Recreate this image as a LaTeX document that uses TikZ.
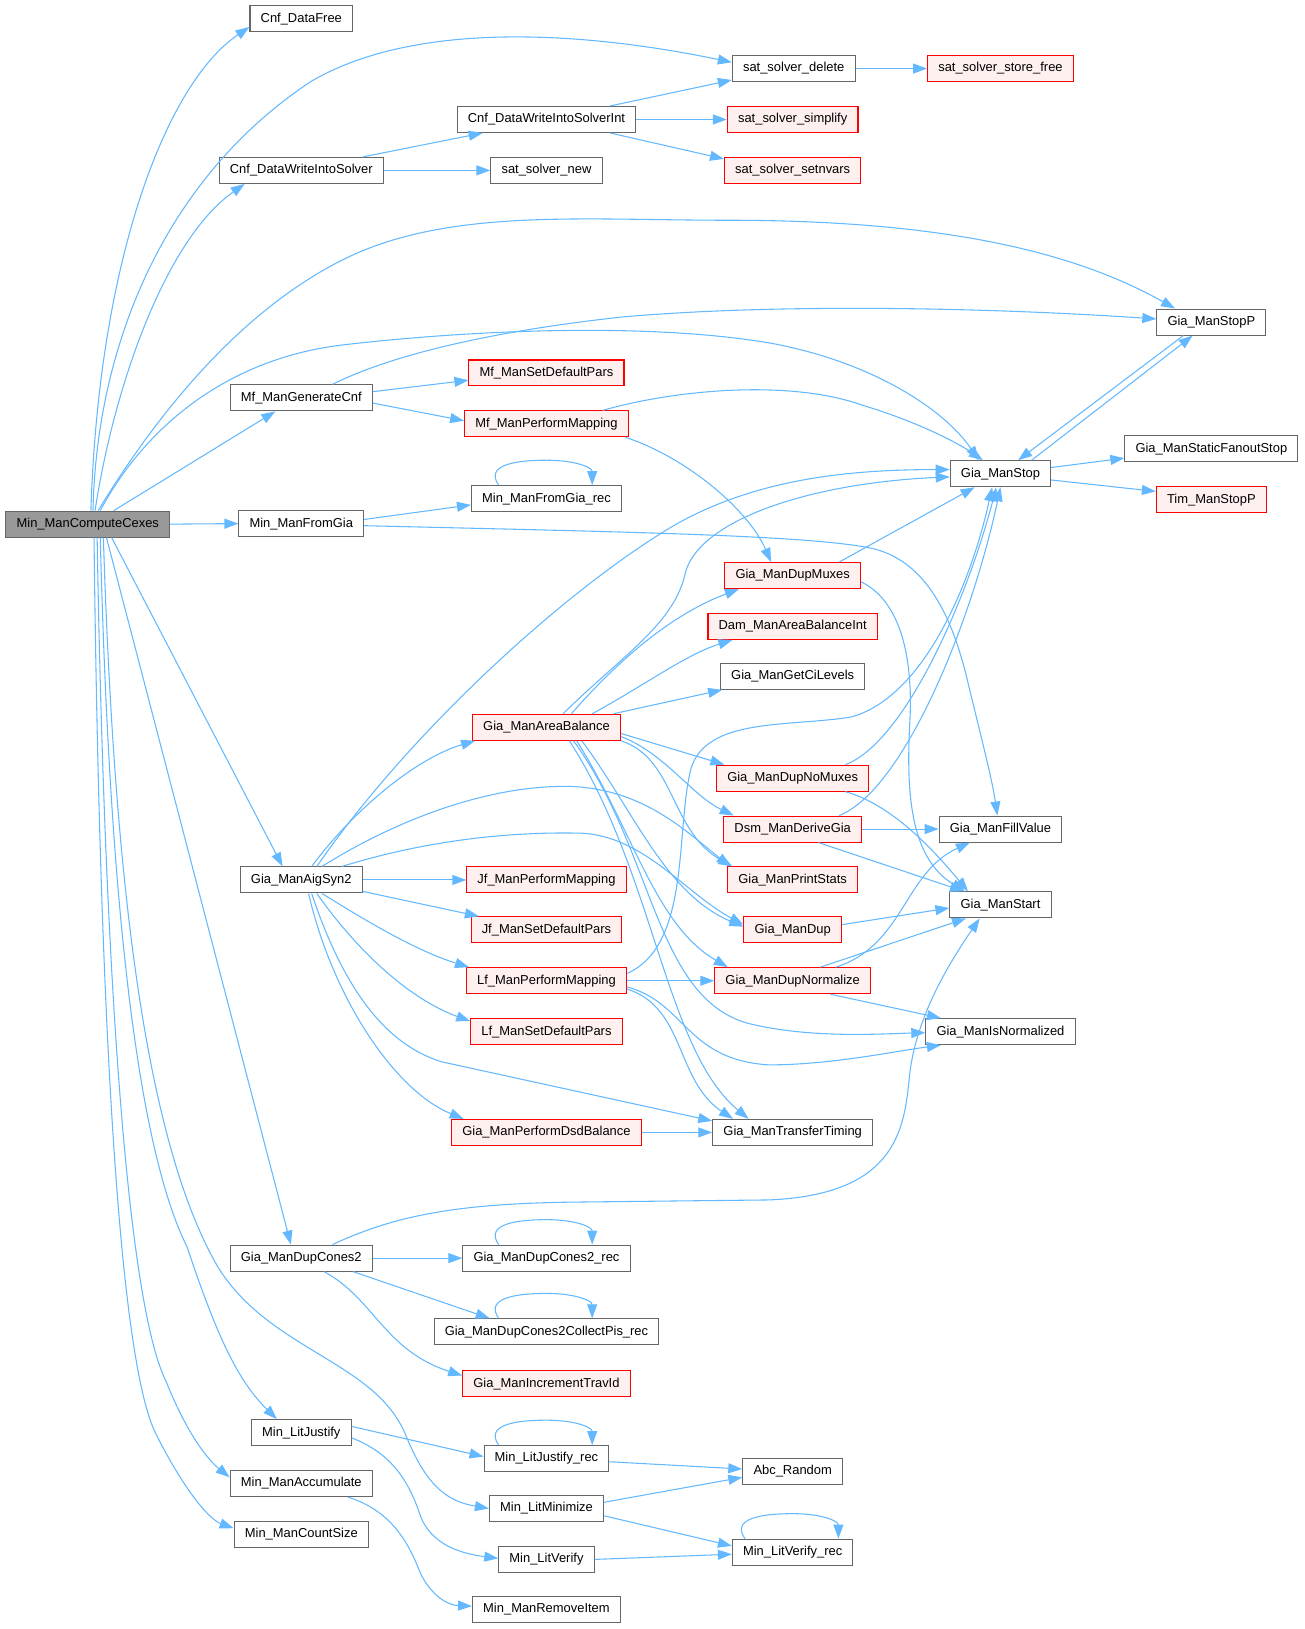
\documentclass[tikz,border=0pt]{standalone}
\usepackage{fontspec}
\setmainfont{Liberation Sans}
\usetikzlibrary{arrows.meta,calc}
\definecolor{edgec}{HTML}{63B8FF}
\definecolor{redfill}{HTML}{FFF0F0}
\definecolor{rootfill}{HTML}{999999}
\definecolor{bordc}{HTML}{666666}
\newcommand{\selfloop}[1]{\draw[conn] ($(#1.north)+(-46,0)$) .. controls ($(#1.north)+(-60,-20)$) and ($(#1.north)+(-28,-24)$) .. ($(#1.north)+(0,-24)$) .. controls ($(#1.north)+(28,-24)$) and ($(#1.north)+(44,-17)$) .. ($(#1.north)+(44,0)$);}
\begin{document}
\begin{tikzpicture}[x=0.77926pt,y=-0.77926pt,
  nbox/.style={draw=bordc,fill=white,line width=0.8pt,minimum height=19.5pt,inner xsep=8pt,inner ysep=0pt,font=\fontsize{9.7pt}{11pt}\selectfont},
  rbox/.style={nbox,draw=red,fill=redfill},
  rootbox/.style={nbox,fill=rootfill},
  conn/.style={draw=edgec,line width=0.8pt,-{Triangle[length=10.5pt,width=7.5pt]}}]
\useasboundingbox (0,0) rectangle (1256,1568);
% nodes
\node[rootbox] (root) at (84.5,504.5) {Min\_ManComputeCexes};
\node[nbox] (free) at (290,18) {Cnf\_DataFree};
\node[nbox] (ssdel) at (764,66) {sat\_solver\_delete};
\node[rbox] (ssfree) at (963,66) {sat\_solver\_store\_free};
\node[nbox] (cnfint) at (526,115) {Cnf\_DataWriteIntoSolverInt};
\node[rbox] (sssimp) at (763,115) {sat\_solver\_simplify};
\node[nbox] (cnfws) at (290,164) {Cnf\_DataWriteIntoSolver};
\node[nbox] (ssnew) at (526,164) {sat\_solver\_new};
\node[rbox] (ssnv) at (763,164) {sat\_solver\_setnvars};
\node[nbox] (stopp) at (1166,310) {Gia\_ManStopP};
\node[rbox] (mfsdp) at (526,359) {Mf\_ManSetDefaultPars};
\node[nbox] (mfgen) at (290,383) {Mf\_ManGenerateCnf};
\node[rbox] (mfpm) at (526,408) {Mf\_ManPerformMapping};
\node[nbox] (stop) at (963,456) {Gia\_ManStop};
\node[nbox] (sfs) at (1166,432) {Gia\_ManStaticFanoutStop};
\node[rbox] (tim) at (1166,481) {Tim\_ManStopP};
\node[nbox] (fgrec) at (526,480) {Min\_ManFromGia\_rec};
\node[nbox] (fg) at (290,504) {Min\_ManFromGia};
\node[rbox] (dmux) at (763,554) {Gia\_ManDupMuxes};
\node[rbox] (dam) at (763,603) {Dam\_ManAreaBalanceInt};
\node[nbox] (ci) at (763,651) {Gia\_ManGetCiLevels};
\node[rbox] (ab) at (526,700) {Gia\_ManAreaBalance};
\node[rbox] (nomux) at (763,749) {Gia\_ManDupNoMuxes};
\node[rbox] (dsm) at (763,798) {Dsm\_ManDeriveGia};
\node[nbox] (fill) at (963,798) {Gia\_ManFillValue};
\node[nbox] (syn) at (290,847) {Gia\_ManAigSyn2};
\node[rbox] (jfpm) at (526,847) {Jf\_ManPerformMapping};
\node[rbox] (ps) at (763,847) {Gia\_ManPrintStats};
\node[nbox] (start) at (963,871) {Gia\_ManStart};
\node[rbox] (jfsdp) at (526,895) {Jf\_ManSetDefaultPars};
\node[rbox] (dup) at (763,895) {Gia\_ManDup};
\node[rbox] (lfpm) at (526,944) {Lf\_ManPerformMapping};
\node[rbox] (norm) at (763,944) {Gia\_ManDupNormalize};
\node[rbox] (lfsdp) at (526,993) {Lf\_ManSetDefaultPars};
\node[nbox] (isn) at (963,993) {Gia\_ManIsNormalized};
\node[rbox] (dsd) at (526,1090) {Gia\_ManPerformDsdBalance};
\node[nbox] (tt) at (763,1090) {Gia\_ManTransferTiming};
\node[nbox] (dc) at (290,1211) {Gia\_ManDupCones2};
\node[nbox] (dcrec) at (526,1211) {Gia\_ManDupCones2\_rec};
\node[nbox] (dcpis) at (526,1282) {Gia\_ManDupCones2CollectPis\_rec};
\node[rbox] (trav) at (526,1332) {Gia\_ManIncrementTravId};
\node[nbox] (lj) at (290,1379) {Min\_LitJustify};
\node[nbox] (ljrec) at (526,1404) {Min\_LitJustify\_rec};
\node[nbox] (rnd) at (763,1416) {Abc\_Random};
\node[nbox] (acc) at (290,1428) {Min\_ManAccumulate};
\node[nbox] (lmin) at (526,1452) {Min\_LitMinimize};
\node[nbox] (cnt) at (290,1477) {Min\_ManCountSize};
\node[nbox] (lv) at (526,1501) {Min\_LitVerify};
\node[nbox] (lvrec) at (763,1494) {Min\_LitVerify\_rec};
\node[nbox] (rem) at (526,1549) {Min\_ManRemoveItem};
% edges from root, upward
\draw[conn] ($(root.north)+(3,0)$) .. controls (95,250) and (160,80) .. ($(free.west)+(0,8)$);
\draw[conn] ($(root.north)+(5,0)$) .. controls (93,330) and (160,170) .. (300,78) .. controls (400,20) and (560,30) .. ($(ssdel.west)+(0,-6)$);
\draw[conn] ($(root.north)+(7,0)$) .. controls (110,370) and (160,230) .. ($(cnfws.south west)+(25,0)$);
\draw[conn] ($(root.north)+(10,0)$) .. controls (150,400) and (230,300) .. (330,250) .. controls (430,200) and (560,212) .. (700,212) .. controls (900,212) and (1030,240) .. ($(stopp.north west)+(18,0)$);
\draw[conn] ($(root.north)+(12,0)$) .. controls (140,410) and (220,345) .. (330,332) .. controls (450,318) and (620,310) .. (740,330) .. controls (840,348) and (910,395) .. ($(stop.north)+(-21,0)$);
\draw[conn] ($(root.north)+(25,0)$) -- ($(mfgen.south)+(-25,0)$);
\draw[conn] (root.east) -- (fg.west);
% root downward
\draw[conn] ($(root.south)+(23,0)$) -- ($(syn.north)+(-18,0)$);
\draw[conn] ($(root.south)+(18,0)$) -- ($(dc.north)+(-10,0)$);
\draw[conn] ($(root.south)+(15,0)$) .. controls (110,850) and (140,1100) .. (210,1220) .. controls (260,1300) and (360,1310) .. (390,1380) .. controls (410,1430) and (430,1445) .. (lmin.west);
\draw[conn] ($(root.south)+(12,0)$) .. controls (105,850) and (130,1100) .. (180,1200) .. controls (210,1290) and (230,1330) .. ($(lj.north west)+(25,0)$);
\draw[conn] ($(root.south)+(9,0)$) .. controls (100,900) and (120,1250) .. (160,1330) .. controls (180,1380) and (200,1405) .. ($(acc.west)+(0,-6)$);
\draw[conn] ($(root.south)+(6,0)$) .. controls (95,900) and (110,1300) .. (150,1380) .. controls (175,1430) and (200,1462) .. ($(cnt.west)+(0,-6)$);
% cnf
\draw[conn] ($(cnfws.north east)+(-20,0)$) -- ($(cnfint.south west)+(25,0)$);
\draw[conn] (cnfws.east) -- (ssnew.west);
\draw[conn] ($(cnfint.north east)+(-25,0)$) -- ($(ssdel.south west)+(0,-2)$);
\draw[conn] (cnfint.east) -- (sssimp.west);
\draw[conn] ($(cnfint.south east)+(-25,0)$) -- ($(ssnv.north west)+(0,2)$);
\draw[conn] (ssdel.east) -- (ssfree.west);
% mf
\draw[conn] ($(mfgen.east)+(0,-6)$) -- ($(mfsdp.west)+(0,7)$);
\draw[conn] ($(mfgen.east)+(0,5)$) -- ($(mfpm.west)+(0,-3)$);
\draw[conn] ($(mfgen.north)+(30,0)$) .. controls (380,340) and (480,318) .. (600,305) .. controls (750,292) and (950,296) .. ($(stopp.west)+(0,-3)$);
\draw[conn] ($(mfpm.north east)+(-25,0)$) .. controls (650,375) and (760,365) .. (830,390) .. controls (880,405) and (920,425) .. ($(stop.north)+(-17,0)$);
\draw[conn] ($(mfpm.south east)+(-3,0)$) .. controls (660,440) and (720,490) .. ($(dmux.north west)+(45,0)$);
% stop
\draw[conn] ($(stopp.south)+(-27,0)$) -- ($(stop.north)+(17,0)$);
\draw[conn] ($(stop.north)+(30,0)$) -- ($(stopp.south)+(-18,0)$);
\draw[conn] ($(stop.east)+(0,-6)$) -- ($(sfs.west)+(0,9)$);
\draw[conn] ($(stop.east)+(0,6)$) -- ($(tim.west)+(0,-8)$);
% fromgia
\draw[conn] ($(fg.east)+(0,-4)$) -- ($(fgrec.west)+(0,6)$);
\draw[conn] ($(fg.east)+(0,2)$) .. controls (600,512) and (780,515) .. (840,528) .. controls (890,540) and (915,590) .. (930,650) .. controls (942,700) and (955,750) .. ($(fill.north)+(-3,0)$);
\selfloop{fgrec}
% dupmuxes
\draw[conn] ($(dmux.north east)+(-21,0)$) -- ($(stop.south west)+(24,0)$);
\draw[conn] ($(dmux.east)+(0,6)$) .. controls (870,580) and (878,640) .. (876,690) .. controls (872,760) and (875,825) .. ($(start.north west)+(15,0)$);
% areabalance
\draw[conn] ($(syn.north)+(10,0)$) .. controls (340,780) and (400,730) .. ($(ab.south west)+(3,0)$);
\draw[conn] ($(ab.north)+(16,0)$) .. controls (600,630) and (650,600) .. (660,550) .. controls (675,500) and (780,465) .. ($(stop.west)+(0,3)$);
\draw[conn] ($(ab.north)+(24,0)$) .. controls (600,630) and (650,590) .. ($(dmux.south west)+(14,0)$);
\draw[conn] ($(ab.north)+(44,0)$) .. controls (620,660) and (660,630) .. ($(dam.south west)+(24,0)$);
\draw[conn] ($(ab.north east)+(-7,0)$) -- ($(ci.south west)+(2,0)$);
\draw[conn] ($(ab.east)+(0,6)$) -- ($(nomux.north west)+(8,0)$);
\draw[conn] ($(ab.east)+(0,9)$) .. controls (640,725) and (665,765) .. ($(dsm.north west)+(10,0)$);
\draw[conn] (ab.south east) .. controls (650,730) and (645,800) .. ($(ps.north west)+(5,0)$);
\draw[conn] ($(ab.south)+(34,0)$) .. controls (610,780) and (640,860) .. ($(dup.west)+(0,-3)$);
\draw[conn] ($(ab.south)+(29,0)$) .. controls (610,800) and (630,890) .. ($(norm.north west)+(13,0)$);
\draw[conn] ($(ab.south)+(26,0)$) .. controls (630,820) and (630,960) .. (720,985) .. controls (780,1000) and (850,995) .. ($(isn.west)+(0,1)$);
\draw[conn] ($(ab.south)+(22,0)$) .. controls (630,840) and (640,1010) .. ($(tt.north west)+(35,0)$);
% aigsyn2
\draw[conn] ($(syn.north)+(15,0)$) .. controls (390,710) and (540,570) .. (650,505) .. controls (730,460) and (820,452) .. ($(stop.west)+(0,-4)$);
\draw[conn] ($(syn.north)+(20,0)$) .. controls (380,790) and (470,755) .. (550,757) .. controls (620,760) and (660,800) .. ($(ps.north west)+(3,0)$);
\draw[conn] ($(syn.north east)+(-20,0)$) .. controls (400,812) and (480,800) .. (560,802) .. controls (620,805) and (660,860) .. ($(dup.west)+(0,-5)$);
\draw[conn] (syn.east) -- (jfpm.west);
\draw[conn] ($(syn.south east)+(0,-2)$) -- ($(jfsdp.north west)+(8,0)$);
\draw[conn] ($(syn.south)+(20,0)$) .. controls (350,885) and (400,915) .. ($(lfpm.north west)+(3,0)$);
\draw[conn] ($(syn.south)+(15,0)$) .. controls (340,910) and (390,960) .. ($(lfsdp.west)+(0,-10)$);
\draw[conn] ($(syn.south)+(7,0)$) .. controls (320,960) and (380,1050) .. ($(dsd.north west)+(12,0)$);
\draw[conn] ($(syn.south)+(10,0)$) .. controls (330,950) and (370,1005) .. (425,1022) -- ($(tt.north west)+(0,2)$);
% lf perform mapping
\draw[conn] (lfpm.east) -- (norm.west);
\draw[conn] ($(lfpm.east)+(0,-7)$) .. controls (665,910) and (650,800) .. (665,740) .. controls (680,690) and (760,700) .. (820,690) .. controls (890,670) and (935,560) .. ($(stop.south)+(-8,0)$);
\draw[conn] ($(lfpm.east)+(0,6)$) .. controls (660,965) and (660,1020) .. (740,1025) .. controls (800,1025) and (860,1012) .. ($(isn.south west)+(15,0)$);
\draw[conn] ($(lfpm.east)+(0,8)$) .. controls (660,970) and (650,1040) .. ($(tt.north west)+(20,0)$);
\draw[conn] (dsd.east) -- (tt.west);
% nomux, dsm, dup, norm
\draw[conn] ($(nomux.north east)+(-23,0)$) .. controls (870,715) and (930,580) .. ($(stop.south)+(-4,0)$);
\draw[conn] ($(nomux.south east)+(-23,0)$) .. controls (860,775) and (900,820) .. ($(start.north west)+(18,0)$);
\draw[conn] ($(dsm.north east)+(-22,0)$) .. controls (870,760) and (935,600) .. (stop.south);
\draw[conn] (dsm.east) -- (fill.west);
\draw[conn] ($(dsm.south east)+(-42,0)$) -- ($(start.north west)+(14,0)$);
\draw[conn] ($(dup.east)+(0,-5)$) -- ($(start.west)+(0,3)$);
\draw[conn] ($(norm.north east)+(-34,0)$) .. controls (870,910) and (870,840) .. ($(fill.south west)+(30,0)$);
\draw[conn] ($(norm.north east)+(-49,0)$) -- ($(start.south west)+(16,0)$);
\draw[conn] ($(norm.south east)+(-39,0)$) -- ($(isn.north west)+(15,0)$);
% dupcones2
\draw[conn] ($(dc.north)+(30,0)$) .. controls (380,1170) and (440,1158) .. (560,1157) -- (740,1155) .. controls (860,1150) and (870,1090) .. (875,1040) .. controls (880,980) and (915,925) .. ($(start.south)+(-20,0)$);
\draw[conn] (dc.east) -- (dcrec.west);
\draw[conn] ($(dc.south east)+(-19,0)$) -- ($(dcpis.north west)+(54,0)$);
\draw[conn] ($(dc.south)+(22,0)$) .. controls (360,1250) and (370,1300) .. ($(trav.west)+(0,-8)$);
\selfloop{dcrec}
\selfloop{dcpis}
% lit
\draw[conn] ($(lj.east)+(0,-6)$) -- ($(ljrec.west)+(0,-2)$);
\draw[conn] ($(lj.east)+(0,5)$) .. controls (380,1400) and (395,1430) .. (405,1460) .. controls (415,1485) and (440,1495) .. ($(lv.west)+(0,-1)$);
\draw[conn] ($(acc.south east)+(-24,0)$) .. controls (380,1455) and (395,1490) .. (405,1515) .. controls (415,1535) and (430,1545) .. ($(rem.west)+(0,-3)$);
\draw[conn] ($(ljrec.east)+(0,3)$) -- ($(rnd.west)+(0,-2)$);
\draw[conn] ($(lmin.east)+(0,-6)$) -- ($(rnd.west)+(0,6)$);
\draw[conn] ($(lmin.east)+(0,7)$) -- ($(lvrec.west)+(0,-6)$);
\draw[conn] (lv.east) -- ($(lvrec.west)+(0,2)$);
\selfloop{ljrec}
\selfloop{lvrec}
\end{tikzpicture}
\end{document}
